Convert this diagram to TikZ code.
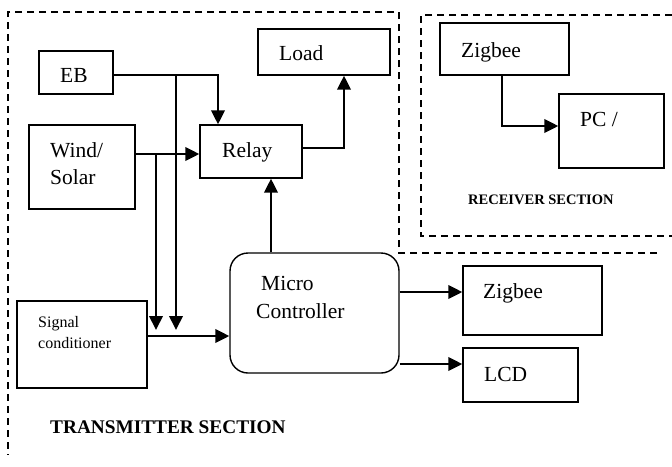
\documentclass[tikz,border=0pt]{standalone}
\usepackage{fontspec}
\setmainfont{Liberation Serif}
\usetikzlibrary{arrows.meta}

\begin{document}
\begin{tikzpicture}[x=1pt, y=-1pt,
  blk/.style={draw, line width=1.4pt, rectangle, inner sep=0pt},
  rblk/.style={blk, rounded corners=18pt},
  conn/.style={line width=2pt, -{Triangle[length=14pt, width=13.5pt]}},
  sect/.style={line width=1.5pt, dash pattern=on 7pt off 5pt},
  txt/.style={anchor=base west, inner sep=0pt, font=\fontsize{21.5}{26}\selectfont},
  smalltxt/.style={anchor=base west, inner sep=0pt, font=\fontsize{16}{20}\selectfont},
  secttxt/.style={anchor=base west, inner sep=0pt, font=\bfseries\fontsize{19.3}{23}\selectfont},
  secttxtsm/.style={anchor=base west, inner sep=0pt, font=\bfseries\fontsize{14.5}{18}\selectfont}]

\useasboundingbox (0,0) rectangle (672,466);

% section outlines
\draw[sect] (657,253) -- (399,253) -- (399,12) -- (8,12) -- (8,455);
\draw[sect] (672,15) -- (421,15) -- (421,236) -- (672,236);

% blocks
\node[blk, minimum width=74pt,  minimum height=43pt]  (eb)    at (76,72.5)   {};
\node[blk, minimum width=132pt, minimum height=46pt]  (load)  at (324,52)    {};
\node[blk, minimum width=106pt, minimum height=84pt]  (wind)  at (82,167)    {};
\node[blk, minimum width=102pt, minimum height=53pt]  (relay) at (251,151.5) {};
\node[blk, minimum width=129pt, minimum height=52pt]  (zigr)  at (504.5,49)  {};
\node[blk, minimum width=105pt, minimum height=74pt]  (pc)    at (611.5,131) {};
\node[blk, minimum width=130pt, minimum height=87pt]  (sc)    at (82,344.5)  {};
\node[rblk, minimum width=169pt, minimum height=120pt] (mc)   at (314.5,313) {};
\node[blk, minimum width=139pt, minimum height=69pt]  (zigt)  at (532.5,300.5) {};
\node[blk, minimum width=115pt, minimum height=54pt]  (lcd)   at (520.5,375) {};

% block texts
\node[txt] (ebt)    at (60,82)   {EB};
\node[txt] (loadt)  at (279,60.5) {Load};
\node[txt] (windt1) at (50,157)  {Wind/};
\node[txt] (windt2) at (50,184)  {Solar};
\node[txt] (relayt) at (222,157) {Relay};
\node[txt] (zigrt)  at (461,57)  {Zigbee};
\node[txt] (pct)    at (580,126) {PC /};
\node[smalltxt] (sct1) at (38,327) {Signal};
\node[smalltxt] (sct2) at (38,348) {conditioner};
\node[txt] (mct1)   at (261,290) {Micro};
\node[txt] (mct2)   at (256,318) {Controller};
\node[txt] (zigtt)  at (483,298) {Zigbee};
\node[txt] (lcdt)   at (484,381) {LCD};

% section titles
\node[secttxt]   (txsec) at (50,433)  {TRANSMITTER SECTION};
\node[secttxtsm] (rxsec) at (468,204) {RECEIVER SECTION};

% junction points
\coordinate (ebcol)   at (218,0);
\coordinate (ebtap)   at (176,75);
\coordinate (ebdrop)  at (176,330);
\coordinate (wstap)   at (156,154);
\coordinate (wsdrop)  at (156,330);
\coordinate (mccol)   at (271,0);
\coordinate (ldcol)   at (344,0);
\coordinate (zcol)    at (502,0);

% connectors
\draw[conn] ([yshift=-2.5pt]eb.east) -| (relay.north -| ebcol);
\draw[conn] (ebtap) -- (ebdrop);
\draw[conn] (wind.east |- wstap) -- (relay.west |- wstap);
\draw[conn] (wstap) -- (wsdrop);
\draw[conn] (sc.east |- 0,336) -- (mc.west |- 0,336);
\draw[conn] (mc.north -| mccol) -- (relay.south -| mccol);
\draw[conn] (relay.east |- 0,148) -| (load.south -| ldcol);
\draw[conn] (mc.east |- 0,292) -- (zigt.west |- 0,292);
\draw[conn] (mc.east |- 0,364) -- (lcd.west |- 0,364);
\draw[conn] (zigr.south -| zcol) |- (pc.west |- 0,126);

\end{tikzpicture}
\end{document}
